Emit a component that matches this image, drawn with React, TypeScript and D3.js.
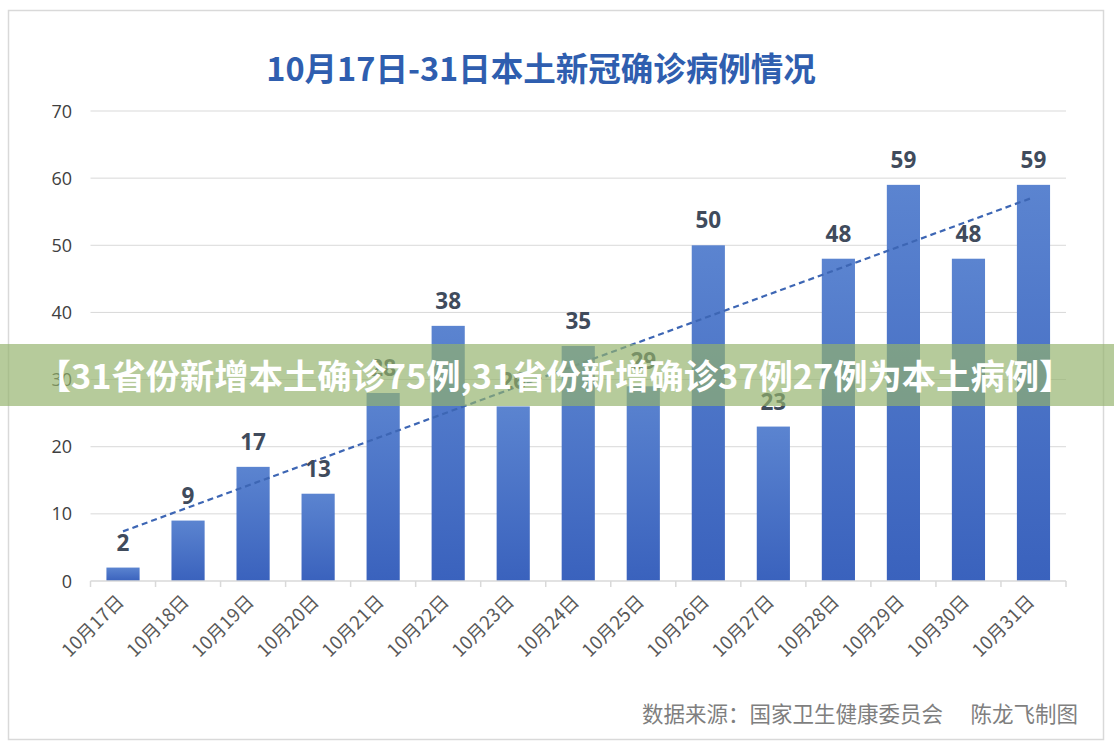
import React from "react";
import * as d3 from "d3";

const categories = ["10月17日","10月18日","10月19日","10月20日","10月21日","10月22日","10月23日","10月24日","10月25日","10月26日","10月27日","10月28日","10月29日","10月30日","10月31日"];
const values = [2, 9, 17, 13, 28, 38, 26, 35, 29, 50, 23, 48, 59, 48, 59];
const yTicks = [0, 10, 20, 30, 40, 50, 60, 70];
const title = "10月17日-31日本土新冠确诊病例情况";
const banner = "【31省份新增本土确诊75例,31省份新增确诊37例27例为本土病例】";
const source = "数据来源：国家卫生健康委员会";
const author = "陈龙飞制图";

export default function App() {
  const W = 1114, H = 750;
  const x = d3.scaleBand<string>().domain(categories).range([90.5, 1066]).paddingInner(0.49).paddingOuter(0.245);
  const y = d3.scaleLinear().domain([0, 70]).range([581, 111]);
  const n = values.length;
  const xm = d3.mean(values.map((_, i) => i)) as number;
  const ym = d3.mean(values) as number;
  const sxy = d3.sum(values.map((v, i) => (i - xm) * (v - ym)));
  const sxx = d3.sum(values.map((_, i) => (i - xm) * (i - xm)));
  const slope = sxy / sxx;
  const icpt = ym - slope * xm;
  const cx = (c: string) => (x(c) as number) + x.bandwidth() / 2;
  const trend = d3.line<number>()
    .x((i) => cx(categories[i]))
    .y((i) => y(icpt + slope * i));
  const font = "'Open Sans','Noto Sans CJK SC',sans-serif";
  const cjk = "'Noto Sans CJK SC',sans-serif";
  const step = x.step();
  const bounds = d3.range(n + 1).map((i) => 90.5 + i * step);
  return (
    <svg width={W} height={H} style={{ position: "absolute", left: 0, top: 0, fontFamily: font }}>
      <defs>
        <linearGradient id="barg" x1="0" y1="0" x2="0" y2="1">
          <stop offset="0" stopColor="#5b84d0" />
          <stop offset="1" stopColor="#3a62bd" />
        </linearGradient>
      </defs>
      <rect x={0} y={0} width={W} height={H} fill="#fff" />
      <rect x={8.5} y={10.5} width={1095} height={729} fill="#fff" stroke="#d9d9d9" strokeWidth={1.5} />
      <text x={541} y={81} textAnchor="middle" fontSize={32.5} fontWeight="bold" fill="#2f5eaf"
        fontFamily="'Noto Sans CJK SC','Open Sans',sans-serif">{title}</text>
      {yTicks.map((t) => (
        <g key={t}>
          {t > 0 && <line x1={90.5} x2={1066} y1={y(t)} y2={y(t)} stroke="#d9d9d9" strokeWidth={1} />}
          <text x={72} y={y(t) + 6.5} textAnchor="end" fontSize={18} fill="#404040">{t}</text>
        </g>
      ))}
      {values.map((v, i) => (
        <rect key={i} x={x(categories[i])} y={y(v)} width={x.bandwidth()} height={y(0) - y(v)} fill="url(#barg)" />
      ))}
      <line x1={90.5} x2={1066} y1={y(0)} y2={y(0)} stroke="#d9d9d9" strokeWidth={1.5} />
      {bounds.map((b, i) => (
        <line key={i} x1={b} x2={b} y1={y(0)} y2={y(0) + 6} stroke="#d9d9d9" strokeWidth={1.5} />
      ))}
      <path d={trend([0, n - 1]) as string} stroke="#3d66b4" strokeWidth={2.2} strokeDasharray="6,4" fill="none" />
      {values.map((v, i) => (
        <text key={i} x={cx(categories[i])} y={y(v) - 17} textAnchor="middle" fontSize={22.5} fontWeight="bold" fill="#404b5c">{v}</text>
      ))}
      {categories.map((c) => (
        <text key={c} transform={`translate(${cx(c) + 2},${y(0) + 22}) rotate(-45)`} textAnchor="end" fontSize={18.5} fill="#595959"
          fontFamily={cjk}>{c}</text>
      ))}
      <text x={943} y={722} textAnchor="end" fontSize={21.5} fill="#7f7f7f" fontFamily={cjk}>{source}</text>
      <text x={1078} y={722} textAnchor="end" fontSize={21.5} fill="#7f7f7f" fontFamily={cjk}>{author}</text>
      <rect x={0} y={344} width={W} height={62} fill="rgb(148,178,108)" fillOpacity={0.68} />
      <text x={555} y={389} textAnchor="middle" fontSize={34.3} fontWeight="bold" fill="#fff"
        fontFamily={cjk}>{banner}</text>
    </svg>
  );
}
